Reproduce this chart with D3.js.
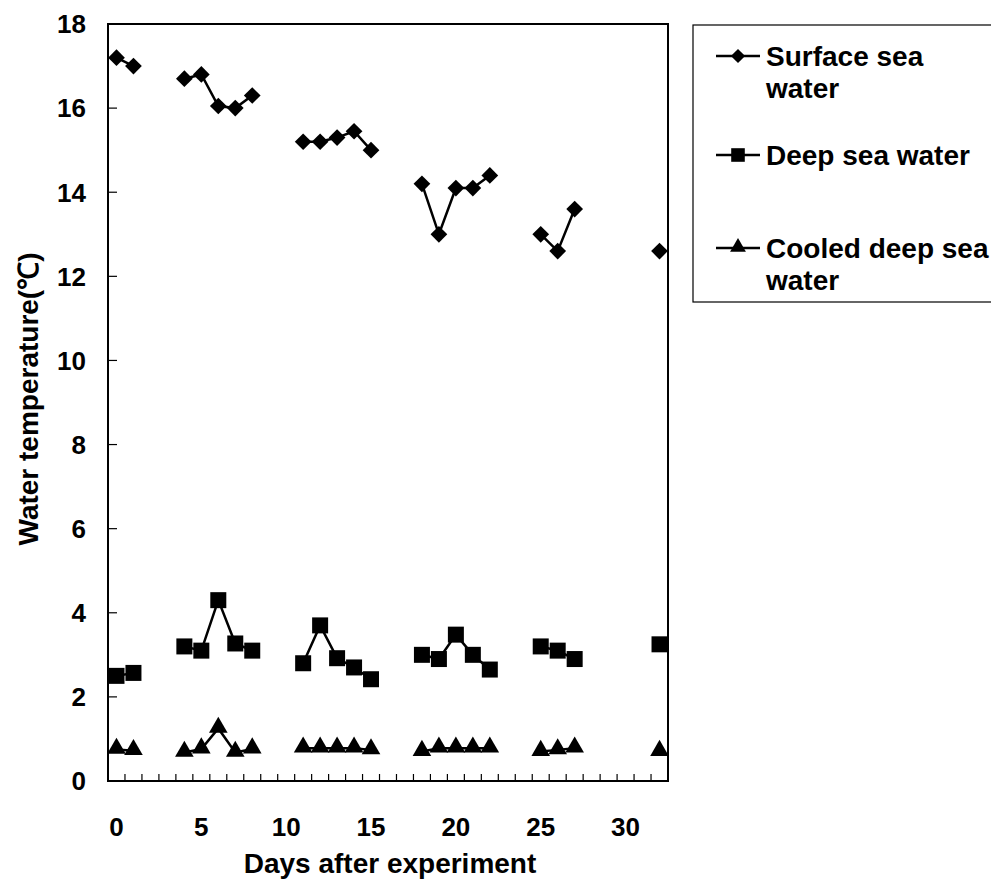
<!DOCTYPE html>
<meta charset="utf-8">
<style>
body { margin: 0; background: #fff; }
text { font-family: "Liberation Sans", Arial, sans-serif; font-weight: bold; fill: #000; }
</style>
<body>
<script src="https://d3js.org/d3.v7.min.js"></script>
<script>
// days that were measured
var days    = [0, 1, 4, 5, 6, 7, 8, 11, 12, 13, 14, 15, 18, 19, 20, 21, 22, 25, 26, 27, 32];
var surface = [17.2, 17.0, 16.7, 16.8, 16.05, 16.0, 16.3, 15.2, 15.2, 15.3, 15.45, 15.0, 14.2, 13.0, 14.1, 14.1, 14.4, 13.0, 12.6, 13.6, 12.6];
var deep    = [2.5, 2.57, 3.2, 3.1, 4.3, 3.27, 3.1, 2.8, 3.7, 2.92, 2.7, 2.42, 3.0, 2.9, 3.48, 3.0, 2.65, 3.2, 3.1, 2.9, 3.25];
var cooled  = [0.75, 0.72, 0.68, 0.76, 1.25, 0.68, 0.76, 0.78, 0.78, 0.78, 0.78, 0.74, 0.7, 0.78, 0.78, 0.78, 0.78, 0.7, 0.74, 0.78, 0.7];
var yTicks  = [0, 2, 4, 6, 8, 10, 12, 14, 16, 18];
var xTicks  = [0, 5, 10, 15, 20, 25, 30];

var series = [
  {name: ["Surface sea", "water"], values: surface, symbol: "diamond"},
  {name: ["Deep sea water"], values: deep, symbol: "square"},
  {name: ["Cooled deep sea", "water"], values: cooled, symbol: "triangle"}
];

var W = 991, H = 880;
var pLeft = 108, pTop = 24, pRight = 668, pBottom = 781;

var svg = d3.select("body").append("svg")
    .attr("width", W)
    .attr("height", H);

var x = d3.scaleLinear().domain([-0.5, 32.5]).range([pLeft, pRight]);
var y = d3.scaleLinear().domain([0, 18]).range([pBottom, pTop]);

// plot frame
svg.append("rect")
    .attr("x", pLeft).attr("y", pTop)
    .attr("width", pRight - pLeft).attr("height", pBottom - pTop)
    .attr("fill", "none").attr("stroke", "#000").attr("stroke-width", 2);

// y ticks (inside) and labels
svg.append("g").selectAll("line")
    .data(yTicks.slice(1, -1))
  .enter().append("line")
    .attr("x1", pLeft).attr("x2", pLeft + 9)
    .attr("y1", function(d) { return y(d); })
    .attr("y2", function(d) { return y(d); })
    .attr("stroke", "#000").attr("stroke-width", 1.2);

svg.append("g").selectAll("text")
    .data(yTicks)
  .enter().append("text")
    .attr("x", 86)
    .attr("y", function(d) { return y(d); })
    .attr("dy", "0.36em")
    .attr("text-anchor", "end")
    .attr("font-size", 26)
    .text(function(d) { return d; });

// x minor ticks at category boundaries
var bounds = d3.range(0.5, 32.5, 1);
svg.append("g").selectAll("line")
    .data(bounds)
  .enter().append("line")
    .attr("x1", function(d) { return x(d); })
    .attr("x2", function(d) { return x(d); })
    .attr("y1", pBottom).attr("y2", pBottom - 7)
    .attr("stroke", "#000").attr("stroke-width", 1.2);

svg.append("g").selectAll("text")
    .data(xTicks)
  .enter().append("text")
    .attr("x", function(d) { return x(d); })
    .attr("y", 827)
    .attr("dy", "0.36em")
    .attr("text-anchor", "middle")
    .attr("font-size", 26)
    .text(function(d) { return d; });

// axis titles
svg.append("text")
    .attr("x", (pLeft + pRight) / 2 + 2)
    .attr("y", 873)
    .attr("text-anchor", "middle")
    .attr("font-size", 28)
    .text("Days after experiment");

svg.append("text")
    .attr("transform", "translate(38,399) rotate(-90)")
    .attr("text-anchor", "middle")
    .attr("font-size", 28)
    .text("Water temperature(\u2103)");

// marker drawing
function marker(g, type) {
  if (type === "diamond") {
    g.append("path").attr("d", d3.symbol(d3.symbolSquare, 140)()).attr("transform", "rotate(45)");
  } else if (type === "square") {
    g.append("path").attr("d", d3.symbol(d3.symbolSquare, 256)());
  } else {
    g.append("path").attr("d", d3.symbol(d3.symbolTriangle, 150)()).attr("transform", "translate(0,-1)");
  }
  g.selectAll("path").attr("fill", "#000");
}

// split runs of consecutive days
function runs(vals) {
  var out = [], cur = [];
  days.forEach(function(d, i) {
    if (i > 0 && d - days[i - 1] > 1) { out.push(cur); cur = []; }
    cur.push([d, vals[i]]);
  });
  out.push(cur);
  return out;
}

var line = d3.line()
    .x(function(d) { return x(d[0]); })
    .y(function(d) { return y(d[1]); });

series.forEach(function(s) {
  svg.append("g").selectAll("path")
      .data(runs(s.values))
    .enter().append("path")
      .attr("d", line)
      .attr("fill", "none")
      .attr("stroke", "#000")
      .attr("stroke-width", 2.5);

  svg.append("g").selectAll("g")
      .data(days)
    .enter().append("g")
      .attr("transform", function(d, i) { return "translate(" + x(d) + "," + y(s.values[i]) + ")"; })
      .each(function() { marker(d3.select(this), s.symbol); });
});

// legend
var lg = svg.append("g");
lg.append("rect")
    .attr("x", 693).attr("y", 25)
    .attr("width", 310).attr("height", 277)
    .attr("fill", "#fff").attr("stroke", "#000").attr("stroke-width", 1.2);

var legY = [56, 155, 248];
series.forEach(function(s, i) {
  lg.append("line")
      .attr("x1", 716).attr("x2", 760)
      .attr("y1", legY[i]).attr("y2", legY[i])
      .attr("stroke", "#000").attr("stroke-width", 2.5);
  var m = lg.append("g");
  marker(m, s.symbol);
  m.attr("transform", "translate(738," + legY[i] + ") scale(0.85)");
  s.name.forEach(function(t, j) {
    lg.append("text")
        .attr("x", 766)
        .attr("y", legY[i] + j * 32)
        .attr("dy", "0.36em")
        .attr("font-size", 28)
        .text(t);
  });
});
</script>
</body>
